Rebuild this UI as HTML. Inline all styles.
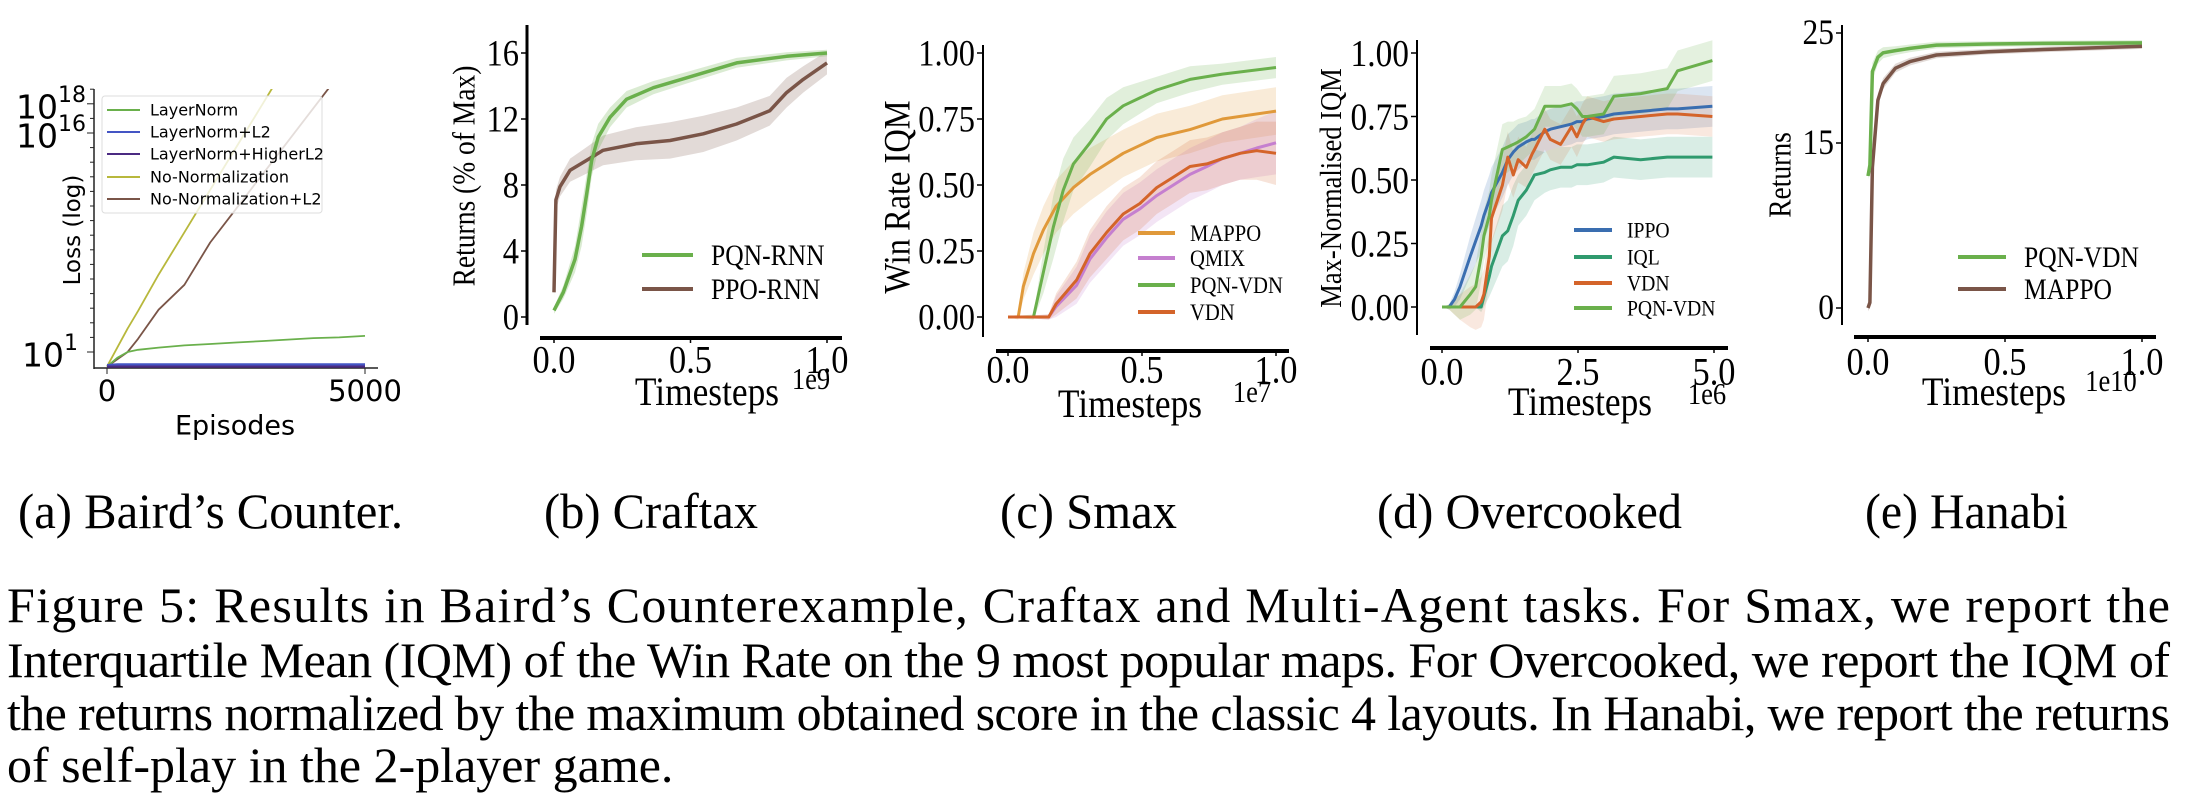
<!DOCTYPE html>
<html><head><meta charset="utf-8">
<style>
html,body{margin:0;padding:0;background:#fff;}
svg{display:block;}
.serif{font-family:"Liberation Serif",serif;fill:#000;}
.sans{font-family:"DejaVu Sans","Liberation Sans",sans-serif;fill:#000;}
</style></head>
<body>
<svg id="fig" width="2186" height="798" viewBox="0 0 2186 798" xmlns="http://www.w3.org/2000/svg">
<defs><clipPath id="clipA"><rect x="94" y="89" width="290" height="281"/></clipPath></defs>
<g id="pa"></g>
<g id="pb"></g>
<g id="pc"></g>
<g id="pd"></g>
<g id="pe"></g>

<g class="serif" font-size="50">
<text x="18" y="528" textLength="385" lengthAdjust="spacingAndGlyphs">(a) Baird’s Counter.</text>
<text x="544" y="528" textLength="214" lengthAdjust="spacingAndGlyphs">(b) Craftax</text>
<text x="1000" y="528" textLength="177" lengthAdjust="spacingAndGlyphs">(c) Smax</text>
<text x="1377" y="528" textLength="305" lengthAdjust="spacingAndGlyphs">(d) Overcooked</text>
<text x="1865" y="528" textLength="203" lengthAdjust="spacingAndGlyphs">(e) Hanabi</text>
</g>
<g class="serif" font-size="50">
<text x="7" y="622" textLength="2163" lengthAdjust="spacing">Figure 5:  Results in Baird’s Counterexample, Craftax and Multi-Agent tasks.  For Smax, we report the</text>
<text x="7" y="677" textLength="2163" lengthAdjust="spacing">Interquartile Mean (IQM) of the Win Rate on the 9 most popular maps. For Overcooked, we report the IQM of</text>
<text x="7" y="730" textLength="2163" lengthAdjust="spacing">the returns normalized by the maximum obtained score in the classic 4 layouts. In Hanabi, we report the returns</text>
<text x="7" y="782">of self-play in the 2-player game.</text>
</g>
</svg>
<script>
// ---------- Panel (a) Baird's Counter: log10(loss) vs episodes ----------
const aEpisodes = [0, 200, 400, 600, 1000, 1500, 2000, 2500, 3000, 3500, 4000, 4500, 5000];
const aLayerNorm = [0, 0.6, 1.0, 1.15, 1.3, 1.45, 1.55, 1.65, 1.75, 1.85, 1.95, 2.0, 2.1];
const aLayerNormL2 = [0.1, 0.15, 0.15, 0.15, 0.15, 0.15, 0.15, 0.15, 0.15, 0.15, 0.15, 0.15, 0.15];
const aLayerNormHigherL2 = [0, 0, 0, 0, 0, 0, 0, 0, 0, 0, 0, 0, 0];
const aNoNorm = [0, 1.3, 2.6, 3.8, 6.3, 9.2, 12.1, 15.0, 17.9, 20.8, 23.7, 26.6, 29.5];
const aNoNormL2 = [0, 0.5, 1.0, 1.9, 3.9, 5.6, 8.5, 10.8, 13.1, 15.4, 17.7, 20.0, 22.3];
const aYTicks = [1, 16, 18];
const aXTicks = [0, 5000];
const aLegend = ["LayerNorm", "LayerNorm+L2", "LayerNorm+HigherL2", "No-Normalization", "No-Normalization+L2"];

// ---------- Panel (b) Craftax ----------
const bPQNt = [0, 0.034, 0.077, 0.101, 0.12, 0.138, 0.162, 0.205, 0.266, 0.364, 0.486, 0.669, 0.852, 1.0];
const bPQN = [0.4, 1.5, 3.5, 5.5, 7.5, 9.5, 10.9, 12.1, 13.2, 13.9, 14.5, 15.4, 15.8, 16.0];
const bPQNband = [0.2, 0.4, 0.8, 1.2, 1.2, 1.0, 0.8, 0.6, 0.5, 0.4, 0.35, 0.3, 0.25, 0.2];
const bPPOt = [0, 0.007, 0.022, 0.059, 0.12, 0.18, 0.30, 0.425, 0.547, 0.669, 0.79, 0.852, 0.913, 1.0];
const bPPO = [1.5, 7.1, 7.9, 8.9, 9.5, 10.1, 10.5, 10.7, 11.1, 11.7, 12.5, 13.6, 14.4, 15.4];
const bPPOband = [0.3, 0.6, 0.6, 0.7, 0.8, 0.9, 1.0, 1.1, 1.1, 1.0, 0.9, 0.9, 0.8, 0.7];
const bYTicks = [0, 4, 8, 12, 16];
const bXTicks = [0, 0.5, 1.0];
const bLegend = ["PQN-RNN", "PPO-RNN"];

// ---------- Panel (c) Smax ----------
const cMAPPOt = [0, 0.038, 0.057, 0.095, 0.132, 0.18, 0.244, 0.306, 0.43, 0.555, 0.679, 0.80, 1.0];
const cMAPPO = [0, 0, 0.115, 0.24, 0.33, 0.42, 0.49, 0.54, 0.62, 0.68, 0.71, 0.75, 0.78];
const cMAPPOband = [0, 0.01, 0.05, 0.08, 0.09, 0.1, 0.1, 0.1, 0.09, 0.09, 0.09, 0.09, 0.09];
const cPQNt = [0, 0.095, 0.132, 0.169, 0.206, 0.244, 0.306, 0.368, 0.43, 0.492, 0.555, 0.679, 0.80, 1.0];
const cPQN = [0, 0, 0.17, 0.34, 0.48, 0.58, 0.66, 0.75, 0.80, 0.83, 0.86, 0.90, 0.92, 0.945];
const cPQNband = [0, 0.01, 0.08, 0.12, 0.12, 0.1, 0.09, 0.08, 0.07, 0.06, 0.05, 0.05, 0.04, 0.04];
const cVDNt = [0, 0.152, 0.18, 0.256, 0.306, 0.368, 0.43, 0.492, 0.555, 0.617, 0.679, 0.742, 0.80, 0.866, 0.928, 1.0];
const cVDN = [0, 0, 0.05, 0.14, 0.24, 0.32, 0.39, 0.43, 0.49, 0.53, 0.57, 0.58, 0.60, 0.62, 0.63, 0.62];
const cQMIX = [0, 0, 0.04, 0.12, 0.22, 0.30, 0.37, 0.41, 0.46, 0.50, 0.54, 0.57, 0.60, 0.62, 0.64, 0.66];
const cVDNband = [0, 0.01, 0.04, 0.07, 0.09, 0.1, 0.1, 0.1, 0.1, 0.1, 0.1, 0.1, 0.1, 0.1, 0.11, 0.12];
const cYTicks = [0, 0.25, 0.5, 0.75, 1.0];
const cXTicks = [0, 0.5, 1.0];
const cLegend = ["MAPPO", "QMIX", "PQN-VDN", "VDN"];

// ---------- Panel (d) Overcooked ----------
const dT = [0, 0.13, 0.23, 0.33, 0.52, 0.62, 0.72, 0.77, 0.87, 0.91, 1.11, 1.21, 1.31, 1.40, 1.55, 1.65, 1.70, 1.89, 1.99, 2.18, 2.38, 2.48, 2.58, 2.67, 2.97, 3.16, 3.65, 4.14, 4.33, 4.97];
const dIPPO = [0, 0, 0.03, 0.08, 0.2, 0.26, 0.32, 0.36, 0.42, 0.45, 0.53, 0.58, 0.61, 0.63, 0.65, 0.66, 0.66, 0.69, 0.70, 0.71, 0.72, 0.73, 0.73, 0.74, 0.75, 0.76, 0.77, 0.78, 0.78, 0.79];
const dIQL = [0, 0, 0, 0, 0, 0, 0, 0.04, 0.12, 0.16, 0.28, 0.3, 0.36, 0.42, 0.46, 0.5, 0.52, 0.53, 0.54, 0.55, 0.55, 0.56, 0.56, 0.56, 0.57, 0.59, 0.58, 0.59, 0.59, 0.59];
const dVDN = [0, 0, 0, 0, 0, 0, 0.02, 0.05, 0.2, 0.35, 0.48, 0.59, 0.52, 0.58, 0.55, 0.6, 0.62, 0.70, 0.66, 0.64, 0.71, 0.67, 0.72, 0.75, 0.73, 0.74, 0.75, 0.76, 0.76, 0.75];
const dPQN = [0, 0, 0, 0, 0.05, 0.08, 0.2, 0.28, 0.36, 0.42, 0.62, 0.63, 0.64, 0.65, 0.67, 0.69, 0.70, 0.79, 0.79, 0.79, 0.80, 0.78, 0.75, 0.75, 0.76, 0.83, 0.84, 0.86, 0.93, 0.97];
const dBand = [0, 0.01, 0.03, 0.05, 0.08, 0.09, 0.1, 0.1, 0.1, 0.1, 0.1, 0.1, 0.09, 0.09, 0.08, 0.08, 0.08, 0.08, 0.08, 0.08, 0.08, 0.08, 0.08, 0.08, 0.08, 0.08, 0.08, 0.08, 0.08, 0.08];
const dIQLband = [0, 0, 0, 0, 0, 0, 0.02, 0.04, 0.08, 0.1, 0.12, 0.12, 0.12, 0.1, 0.1, 0.1, 0.1, 0.08, 0.08, 0.08, 0.08, 0.08, 0.08, 0.08, 0.08, 0.08, 0.08, 0.08, 0.08, 0.08];
const dYTicks = [0, 0.25, 0.5, 0.75, 1.0];
const dXTicks = [0, 2.5, 5.0];
const dLegend = ["IPPO", "IQL", "VDN", "PQN-VDN"];

// ---------- Panel (e) Hanabi ----------
const eT = [0, 0.007, 0.016, 0.036, 0.055, 0.1, 0.153, 0.25, 0.44, 0.64, 1.0];
const ePQN = [12, 13, 21.5, 22.8, 23.2, 23.4, 23.6, 23.9, 24.0, 24.05, 24.1];
const eMAPPO = [0, 0.5, 12.8, 18.9, 20.4, 21.8, 22.4, 23.0, 23.3, 23.5, 23.8];
const eBand = [0.3, 0.5, 0.8, 0.6, 0.5, 0.4, 0.35, 0.3, 0.25, 0.25, 0.25];
const eYTicks = [0, 15, 25];
const eXTicks = [0, 0.5, 1.0];
const eLegend = ["PQN-VDN", "MAPPO"];

const NS = "http://www.w3.org/2000/svg";
const SQ = 0.87, SZ = 1.13;
function lin(d0, d1, r0, r1) { return v => r0 + (v - d0) * (r1 - r0) / (d1 - d0); }
function mk(parent, tag, attrs, txt) {
  const el = document.createElementNS(NS, tag);
  for (const k in attrs) el.setAttribute(k, attrs[k]);
  if (txt !== undefined) el.textContent = txt;
  parent.appendChild(el);
  return el;
}
function pathD(xs, ys, X, Y) {
  return xs.map((t, i) => (i ? "L" : "M") + X(t).toFixed(1) + " " + Y(ys[i]).toFixed(1)).join(" ");
}
function line(g, xs, ys, X, Y, color, w, name) {
  const p = mk(g, "path", { d: pathD(xs, ys, X, Y), fill: "none", stroke: color, "stroke-width": w, "stroke-linejoin": "round" });
  
  
  return p;
}
function band(g, xs, ys, hw, X, Y, color, op, name) {
  let d = xs.map((t, i) => (i ? "L" : "M") + X(t).toFixed(1) + " " + Y(ys[i] + hw[i]).toFixed(1)).join(" ");
  for (let i = xs.length - 1; i >= 0; i--) d += " L" + X(xs[i]).toFixed(1) + " " + Y(ys[i] - hw[i]).toFixed(1);
  const p = mk(g, "path", { d: d + " Z", fill: color, "fill-opacity": op, stroke: "none" });
  
  
}
function txt(g, x, y, s, size, cls, anchor, name, rot) {
  let tr = "";
  let fs = size;
  if (cls === "serif") {
    fs = size * SZ;
    tr = "translate(" + x + " " + y + ") scale(" + SQ + " 1) translate(" + (-x) + " " + (-y) + ")";
  }
  if (rot) tr = "rotate(-90 " + x + " " + y + ") " + tr;
  const a = { x: x, y: y, "font-size": fs, class: cls, "text-anchor": anchor || "start", "dominant-baseline": "central" };
  if (tr) a.transform = tr;
  const t = mk(g, "text", a, s);
  
  
  return t;
}
function seg(g, x1, y1, x2, y2, w, name, color) {
  const l = mk(g, "line", { x1: x1, y1: y1, x2: x2, y2: y2, stroke: color || "#000", "stroke-width": w });
  
  
  return l;
}
function fmt2(v) { return v.toFixed(2); }
function fmt1(v) { return v.toFixed(1); }

const GREEN = "#6ab04c", BROWN = "#7a5548", ORANGE = "#e0993a", QPURP = "#c57fcf", VORNG = "#d4642a", BLUE = "#3a6eb0", TEAL = "#2f9a6e";

// ----- Panel a -----
(function () {
  const g = document.getElementById("pa");
  const X = lin(0, 5000, 107, 365), Y = v => 352 - (v - 1) * 14.6;
  seg(g, 94, 89, 94, 369, 1.5, "y-axis-line-a", "#222");
  seg(g, 94, 368, 378, 368, 1.5, "x-axis-line-a", "#222");
  for (let L = 1; L <= 19; L++) {
    if (Y(L) < 89) continue;
    const major = aYTicks.indexOf(L) >= 0;
    seg(g, major ? 87 : 90, Y(L), 94, Y(L), 1, "y-tick-a", "#222");
  }
  aYTicks.forEach(L => {
    const t = txt(g, 63, Y(L) + 3, "10", 33, "sans", "end", "y-tick-label-a");
    mk(t, "tspan", { "font-size": 22, dy: -12 }, String(L));
    t.setAttribute("x", L === 1 ? 78 : 86);
  });
  aXTicks.forEach(v => {
    seg(g, X(v), 368, X(v), 374, 1, "x-tick-a", "#222");
    txt(g, X(v), 391, String(v), 29, "sans", "middle", "x-tick-label-a");
  });
  txt(g, 235, 426, "Episodes", 27, "sans", "middle", "x-axis-title-a");
  txt(g, 73, 230, "Loss (log)", 23, "sans", "middle", "y-axis-title-a", true);
  const cg = mk(g, "g", { "clip-path": "url(#clipA)" });
  line(cg, aEpisodes, aNoNorm, X, Y, "#b8b83c", 1.8, "series-no-normalization");
  line(cg, aEpisodes, aNoNormL2, X, Y, BROWN, 1.8, "series-no-normalization-l2");
  line(cg, aEpisodes, aLayerNorm, X, Y, GREEN, 1.8, "series-layernorm");
  line(cg, aEpisodes, aLayerNormL2, X, Y, "#4455c4", 2.2, "series-layernorm-l2");
  line(cg, aEpisodes, aLayerNormHigherL2, X, Y, "#4b2a82", 2.2, "series-layernorm-higherl2");
  const lg = mk(g, "g", {});
  
  
  mk(lg, "rect", { x: 102, y: 96, width: 220, height: 117, rx: 3, fill: "#fff", "fill-opacity": 0.8, stroke: "#ddd", "stroke-width": 1 });
  const cols = [GREEN, "#4455c4", "#4b2a82", "#b8b83c", BROWN];
  const ly = [110, 132, 154, 177, 199];
  aLegend.forEach((s, i) => {
    seg(lg, 107, ly[i], 140, ly[i], 2, "legend-line-a", cols[i]);
    txt(lg, 150, ly[i], s, 16, "sans", "start", "legend-label-a");
  });
})();

// generic despined panel
function panel(id, cfg) {
  const g = document.getElementById(id);
  const X = cfg.X, Y = cfg.Y;
  seg(g, cfg.ax, cfg.ay0, cfg.ax, cfg.ay1, cfg.lw, "y-axis-line-" + cfg.k);
  seg(g, cfg.bx0, cfg.by, cfg.bx1, cfg.by, 4, "x-axis-line-" + cfg.k);
  cfg.yt.forEach(v => {
    seg(g, cfg.ax - 6, Y(v), cfg.ax, Y(v), 1.5, "y-tick-" + cfg.k);
    txt(g, cfg.ax - 8, Y(v), cfg.yf(v), cfg.yfs, "serif", "end", "y-tick-label-" + cfg.k);
  });
  cfg.xt.forEach(v => {
    seg(g, X(v), cfg.by, X(v), cfg.by + 5, 1.5, "x-tick-" + cfg.k);
    txt(g, X(v), cfg.xly, fmt1(v), 35, "serif", "middle", "x-tick-label-" + cfg.k);
  });
  txt(g, cfg.tx, cfg.ty, "Timesteps", 36, "serif", "middle", "x-axis-title-" + cfg.k);
  txt(g, cfg.sx, cfg.sy, cfg.sci, 27, "serif", "middle", "x-axis-scale-" + cfg.k);
  txt(g, cfg.ylx, cfg.yly, cfg.ylabel, cfg.ylfs, "serif", "middle", "y-axis-title-" + cfg.k, true);
  return g;
}
function legend(g, k, items, x0, x1, tx, ys, fs) {
  const lg = mk(g, "g", {});
  
  
  items.forEach((it, i) => {
    seg(lg, x0, ys[i], x1, ys[i], 4, "legend-line-" + k, it[1]);
    txt(lg, tx, ys[i], it[0], fs, "serif", "start", "legend-label-" + k);
  });
}

// ----- Panel b -----
(function () {
  const X = lin(0, 1, 554, 827), Y = lin(0, 16, 317, 53);
  const g = panel("pb", { k: "b", X, Y, ax: 527, ay0: 25, ay1: 325, lw: 3, bx0: 540, bx1: 842, by: 338,
    yt: bYTicks, yf: v => String(v), yfs: 33, xt: bXTicks, xly: 360, tx: 707, ty: 392, sx: 811, sy: 380, sci: "1e9",
    ylx: 465, yly: 176, ylabel: "Returns (% of Max)", ylfs: 28 });
  band(g, bPPOt, bPPO, bPPOband, X, Y, BROWN, 0.22, "band-ppo-rnn");
  band(g, bPQNt, bPQN, bPQNband, X, Y, GREEN, 0.25, "band-pqn-rnn");
  line(g, bPPOt, bPPO, X, Y, BROWN, 3.5, "series-ppo-rnn");
  line(g, bPQNt, bPQN, X, Y, GREEN, 3.5, "series-pqn-rnn");
  legend(g, "b", [[bLegend[0], GREEN], [bLegend[1], BROWN]], 642, 693, 711, [255, 289], 26);
})();

// ----- Panel c -----
(function () {
  const X = lin(0, 1, 1008, 1276), Y = lin(0, 1, 317, 53);
  const g = panel("pc", { k: "c", X, Y, ax: 983, ay0: 45, ay1: 337, lw: 2, bx0: 996, bx1: 1289, by: 351,
    yt: cYTicks, yf: fmt2, yfs: 33, xt: cXTicks, xly: 370, tx: 1130, ty: 404, sx: 1252, sy: 393, sci: "1e7",
    ylx: 897, yly: 197, ylabel: "Win Rate IQM", ylfs: 33 });
  band(g, cMAPPOt, cMAPPO, cMAPPOband, X, Y, ORANGE, 0.2, "band-mappo");
  band(g, cVDNt, cQMIX, cVDNband, X, Y, QPURP, 0.2, "band-qmix");
  band(g, cVDNt, cVDN, cVDNband, X, Y, VORNG, 0.18, "band-vdn");
  band(g, cPQNt, cPQN, cPQNband, X, Y, GREEN, 0.2, "band-pqn-vdn");
  line(g, cMAPPOt, cMAPPO, X, Y, ORANGE, 3, "series-mappo");
  line(g, cVDNt, cQMIX, X, Y, QPURP, 3, "series-qmix");
  line(g, cPQNt, cPQN, X, Y, GREEN, 3, "series-pqn-vdn");
  line(g, cVDNt, cVDN, X, Y, VORNG, 3, "series-vdn");
  legend(g, "c", [[cLegend[0], ORANGE], [cLegend[1], QPURP], [cLegend[2], GREEN], [cLegend[3], VORNG]], 1138, 1175, 1190, [233, 258, 285, 312], 21);
})();

// ----- Panel d -----
(function () {
  const X = lin(0, 5, 1442, 1714), Y = lin(0, 1, 307, 53);
  const g = panel("pd", { k: "d", X, Y, ax: 1417, ay0: 40, ay1: 335, lw: 2, bx0: 1430, bx1: 1728, by: 348,
    yt: dYTicks, yf: fmt2, yfs: 34, xt: dXTicks, xly: 372, tx: 1580, ty: 402, sx: 1707, sy: 395, sci: "1e6",
    ylx: 1332, yly: 188, ylabel: "Max-Normalised IQM", ylfs: 27 });
  band(g, dT, dIPPO, dBand, X, Y, BLUE, 0.18, "band-ippo");
  band(g, dT, dIQL, dIQLband, X, Y, TEAL, 0.18, "band-iql");
  band(g, dT, dVDN, dBand, X, Y, VORNG, 0.15, "band-vdn");
  band(g, dT, dPQN, dBand, X, Y, GREEN, 0.18, "band-pqn-vdn");
  line(g, dT, dIPPO, X, Y, BLUE, 3, "series-ippo");
  line(g, dT, dIQL, X, Y, TEAL, 3, "series-iql");
  line(g, dT, dVDN, X, Y, VORNG, 3, "series-vdn");
  line(g, dT, dPQN, X, Y, GREEN, 3, "series-pqn-vdn");
  legend(g, "d", [[dLegend[0], BLUE], [dLegend[1], TEAL], [dLegend[2], VORNG], [dLegend[3], GREEN]], 1574, 1612, 1627, [230, 257, 283, 308], 20);
})();

// ----- Panel e -----
(function () {
  const X = lin(0, 1, 1868, 2142), Y = lin(0, 25, 308, 33);
  const g = panel("pe", { k: "e", X, Y, ax: 1842, ay0: 25, ay1: 325, lw: 2, bx0: 1854, bx1: 2156, by: 337,
    yt: eYTicks, yf: v => String(v), yfs: 32, xt: eXTicks, xly: 362, tx: 1994, ty: 392, sx: 2111, sy: 382, sci: "1e10",
    ylx: 1781, yly: 175, ylabel: "Returns", ylfs: 28 });
  band(g, eT, eMAPPO, eBand, X, Y, BROWN, 0.22, "band-mappo");
  band(g, eT, ePQN, eBand, X, Y, GREEN, 0.22, "band-pqn-vdn");
  line(g, eT, eMAPPO, X, Y, BROWN, 3.5, "series-mappo");
  line(g, eT, ePQN, X, Y, GREEN, 3.5, "series-pqn-vdn");
  legend(g, "e", [[eLegend[0], GREEN], [eLegend[1], BROWN]], 1958, 2006, 2024, [257, 289], 26);
})();
</script>
</body></html>
